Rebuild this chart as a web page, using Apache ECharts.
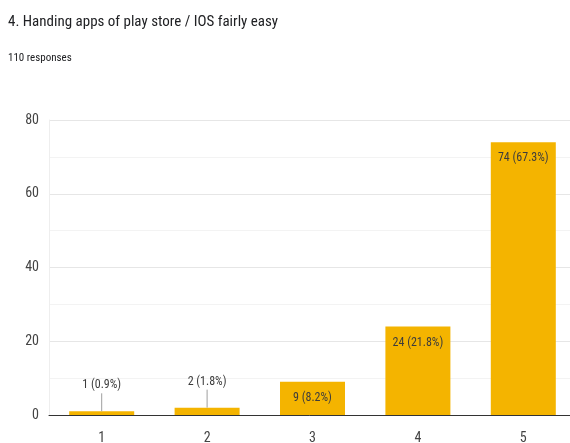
<!DOCTYPE html>
<html>
<head>
<meta charset="utf-8">
<script src="https://cdn.jsdelivr.net/npm/echarts@6/dist/echarts.min.js"></script>
<style>
  html, body { margin: 0; padding: 0; background: #fff; }
  #chart { width: 570px; height: 443px; }
</style>
</head>
<body>
<div id="chart"></div>
<script>
// Survey answers on a 1–5 scale
const categories = ['1', '2', '3', '4', '5'];
const counts = [1, 2, 9, 24, 74];
const percents = ['0.9%', '1.8%', '8.2%', '21.8%', '67.3%'];
const yTicks = [0, 20, 40, 60, 80];

const FONT = '"Roboto Condensed", Roboto, sans-serif';
const BAR = '#f4b400';
const SHORT = 5;          // bars below this get their label lifted above
const LIFT = 20;          // px between bar top and lifted label

const seriesData = counts.map(v => {
  const item = { value: v };
  if (v < SHORT) item.label = { position: 'top', distance: LIFT };
  return item;
});

const chart = echarts.init(document.getElementById('chart'), null, { renderer: 'canvas' });
chart.setOption({
  animation: false,
  title: {
    text: '4. Handing apps of play store / IOS fairly easy',
    subtext: '110 responses',
    left: 3,
    top: 10,
    itemGap: 23,
    textStyle: { fontFamily: FONT, fontSize: 15, fontWeight: 'normal', color: '#202124' },
    subtextStyle: { fontFamily: FONT, fontSize: 11, color: '#202124' }
  },
  grid: { left: 49, width: 527, top: 120, bottom: 28, containLabel: false, outerBoundsMode: 'none' },
  xAxis: {
    type: 'category',
    data: categories,
    axisLine: { lineStyle: { color: '#333', width: 1 } },
    axisTick: { show: false },
    axisLabel: { fontFamily: FONT, fontSize: 14, color: '#444', margin: 16 }
  },
  yAxis: {
    type: 'value',
    min: 0,
    max: 80,
    interval: 10,
    axisLine: { show: true, lineStyle: { color: '#eeeeee' } },
    axisTick: { show: false },
    axisLabel: {
      fontFamily: FONT, fontSize: 14, color: '#444', margin: 10,
      formatter: v => (yTicks.indexOf(v) >= 0 ? String(v) : '')
    },
    splitLine: { lineStyle: { color: ['#e6e6e6', '#f3f3f3'] } }
  },
  series: [{
    type: 'bar',
    data: seriesData,
    barWidth: 65,
    itemStyle: { color: BAR },
    z: 2,
    label: {
      show: true,
      position: 'insideTop',
      distance: 10,
      fontFamily: FONT,
      fontSize: 12,
      color: '#3c3c3c',
      formatter: p => p.value + ' (' + percents[p.dataIndex] + ')'
    }
  }, {
    // guide lines from short bars up to their lifted labels
    type: 'custom',
    data: counts.map((v, i) => [i, v]),
    z: 3,
    silent: true,
    renderItem: (params, api) => {
      const v = api.value(1);
      if (v >= SHORT) return null;
      const p = api.coord([api.value(0), v]);
      return {
        type: 'line',
        shape: { x1: p[0], y1: p[1], x2: p[0], y2: p[1] - LIFT + 2 },
        style: { stroke: '#9e9e9e', lineWidth: 1 }
      };
    }
  }]
});
</script>
</body>
</html>
